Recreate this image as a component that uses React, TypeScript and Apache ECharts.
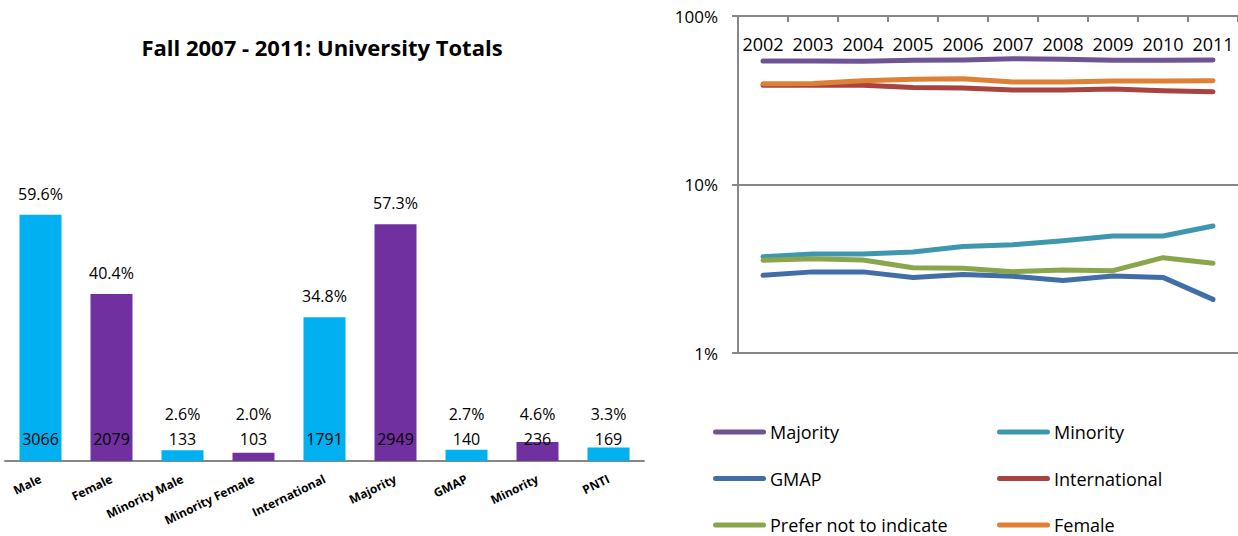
import React, { useEffect, useRef } from "react";
import * as echarts from "echarts";

const FONT = "'Open Sans', 'Noto Sans', sans-serif";

// Left chart data
const barCategories = ["Male", "Female", "Minority Male", "Minority Female", "International", "Majority", "GMAP", "Minority", "PNTI"];
const barCounts = [3066, 2079, 133, 103, 1791, 2949, 140, 236, 169];
const barPercents = [59.6, 40.4, 2.6, 2.0, 34.8, 57.3, 2.7, 4.6, 3.3];
const barTitle = "Fall 2007 - 2011: University Totals";

// Right chart data (percent of total, log scale)
const years = ["2002", "2003", "2004", "2005", "2006", "2007", "2008", "2009", "2010", "2011"];
const majority = [54.1, 54.1, 53.8, 54.6, 54.8, 55.8, 55.3, 54.6, 54.6, 54.8];
const minority = [3.73, 3.87, 3.87, 3.98, 4.28, 4.39, 4.64, 4.95, 4.95, 5.67];
const gmap = [2.89, 3.03, 3.03, 2.81, 2.92, 2.85, 2.69, 2.86, 2.81, 2.08];
const international = [38.8, 38.8, 38.8, 37.6, 37.4, 36.4, 36.4, 36.9, 36.0, 35.5];
const preferNot = [3.55, 3.63, 3.56, 3.21, 3.18, 3.04, 3.11, 3.08, 3.68, 3.41];
const female = [39.6, 39.8, 41.3, 42.1, 42.4, 40.6, 40.6, 41.1, 41.1, 41.3];

const lineSeriesDefs = [
  { name: "Majority", data: majority, color: "#6E5494" },
  { name: "Minority", data: minority, color: "#3F97AF" },
  { name: "GMAP", data: gmap, color: "#426EA8" },
  { name: "International", data: international, color: "#A9433F" },
  { name: "Prefer not to indicate", data: preferNot, color: "#89A64C" },
  { name: "Female", data: female, color: "#DE8136" },
];

const CYAN = "#00B0F0";
const PURPLE = "#7030A0";
const GRID_GREY = "#868686";
const pctLabelFloor = 325;
const LEGEND_ICON = "path://M2.5,0 H50.5 A2.5,2.5 0 0 1 50.5,5 H2.5 A2.5,2.5 0 0 1 2.5,0 Z";

const legendBase = {
  orient: "vertical",
  top: 422,
  height: 140,
  padding: 0,
  icon: LEGEND_ICON,
  itemWidth: 53,
  itemHeight: 5,
  itemGap: 26.5,
  textStyle: { fontFamily: FONT, fontSize: 18, color: "#000", lineHeight: 20, padding: [0, 0, 0, -1] },
};

export default function App() {
  const ref = useRef<HTMLDivElement>(null);

  useEffect(() => {
    if (!ref.current) return;
    const chart = echarts.init(ref.current, undefined, { renderer: "svg" });

    const option: any = {
      animation: false,
      textStyle: { fontFamily: FONT, color: "#000" },
      graphic: [
        {
          type: "text",
          x: 322,
          y: 47,
          style: {
            text: barTitle,
            fontFamily: FONT,
            fontSize: 22,
            fontWeight: "bold",
            fill: "#000",
            textAlign: "center",
            textVerticalAlign: "middle",
          },
        },
      ],
      grid: [
        { left: 5, top: 180, width: 639, height: 281 },
        { left: 738, top: 16, width: 505, height: 337 },
      ],
      xAxis: [
        {
          gridIndex: 0,
          type: "category",
          data: barCategories,
          axisLine: { lineStyle: { color: GRID_GREY, width: 2 } },
          axisTick: { show: false },
          axisLabel: {
            interval: 0,
            rotate: 26,
            margin: 17,
            fontFamily: FONT,
            fontSize: 12,
            fontWeight: "bold",
            color: "#000",
          },
        },
        {
          gridIndex: 1,
          type: "category",
          data: years,
          position: "top",
          boundaryGap: true,
          axisLine: { lineStyle: { color: GRID_GREY, width: 2 } },
          axisTick: { show: true, inside: true, length: 6, lineStyle: { color: GRID_GREY, width: 2 } },
          axisLabel: {
            inside: true,
            margin: 19,
            interval: 0,
            fontFamily: FONT,
            fontSize: 18,
            color: "#000",
          },
        },
      ],
      yAxis: [
        {
          gridIndex: 0,
          type: "value",
          min: 0,
          max: 3500,
          show: false,
          splitLine: { show: false },
        },
        {
          gridIndex: 1,
          type: "log",
          logBase: 10,
          min: 1,
          max: 100,
          axisLine: { show: true, lineStyle: { color: GRID_GREY, width: 2 } },
          axisTick: { show: true, length: 6, lineStyle: { color: GRID_GREY, width: 2 } },
          minorTick: { show: false },
          splitLine: { show: true, lineStyle: { color: GRID_GREY, width: 2 } },
          axisLabel: {
            margin: 20,
            fontFamily: FONT,
            fontSize: 17,
            color: "#000",
            formatter: (v: number) => `${Math.round(v)}%`,
          },
        },
      ],
      legend: [
        { ...legendBase, left: 713, data: ["Majority", "GMAP", "Prefer not to indicate"] },
        { ...legendBase, left: 997, data: ["Minority", "International", "Female"] },
      ],
      series: [
        {
          type: "bar",
          name: "Counts",
          xAxisIndex: 0,
          yAxisIndex: 0,
          barWidth: 42,
          barGap: "-100%",
          data: barCounts.map((v, i) => ({
            value: v,
            itemStyle: { color: i % 2 === 0 ? CYAN : PURPLE },
          })),
          label: {
            show: true,
            position: "insideBottom",
            distance: 14,
            fontFamily: FONT,
            fontSize: 16,
            lineHeight: 16,
            color: "#000",
            formatter: "{c}",
          },
          silent: true,
        },
        {
          type: "bar",
          name: "Percent",
          xAxisIndex: 0,
          yAxisIndex: 0,
          barWidth: 42,
          barGap: "-100%",
          data: barCounts.map((v) => Math.max(v, pctLabelFloor)),
          itemStyle: { color: "rgba(0,0,0,0)" },
          label: {
            show: true,
            position: "top",
            distance: 13,
            fontFamily: FONT,
            fontSize: 16,
            lineHeight: 16,
            color: "#000",
            formatter: (p: any) => `${barPercents[p.dataIndex].toFixed(1)}%`,
          },
          silent: true,
        },
        ...lineSeriesDefs.map((s) => ({
          type: "line",
          name: s.name,
          xAxisIndex: 1,
          yAxisIndex: 1,
          data: s.data,
          symbol: "none",
          color: s.color,
          lineStyle: { color: s.color, width: 5, cap: "round", join: "round" },
          itemStyle: { color: s.color },
        })),
      ],
    };

    chart.setOption(option);
    return () => chart.dispose();
  }, []);

  return (
    <div
      ref={ref}
      style={{ position: "fixed", left: 0, top: 0, width: 1238, height: 536, background: "#fff" }}
    />
  );
}
